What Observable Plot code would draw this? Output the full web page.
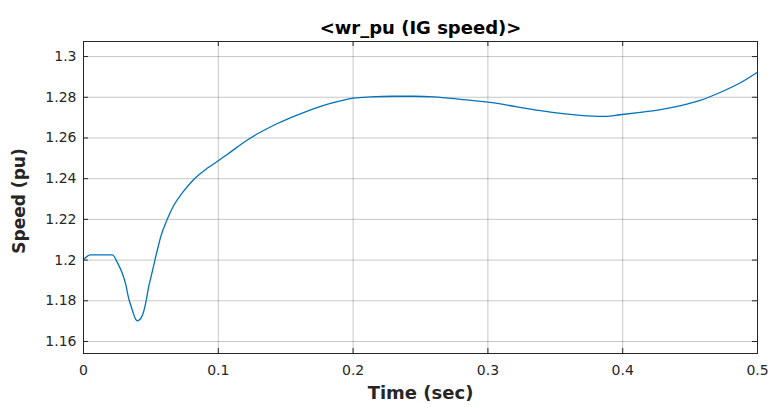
<!DOCTYPE html>
<html>
<head>
<meta charset="utf-8">
<script src="https://cdn.jsdelivr.net/npm/d3@7"></script>
<script src="https://cdn.jsdelivr.net/npm/@observablehq/plot@0.6"></script>
<style>
  html, body { margin: 0; padding: 0; background: #fff; }
  svg { display: block; }
</style>
</head>
<body>
<div id="chart"></div>
<script>
const title = "<wr_pu (IG speed)>";
const xLabel = "Time (sec)";
const yLabel = "Speed (pu)";
const xTicks = [0, 0.1, 0.2, 0.3, 0.4, 0.5];
const xTickLabels = ["0", "0.1", "0.2", "0.3", "0.4", "0.5"];
const yTicks = [1.16, 1.18, 1.2, 1.22, 1.24, 1.26, 1.28, 1.3];
const yTickLabels = ["1.16", "1.18", "1.2", "1.22", "1.24", "1.26", "1.28", "1.3"];

const time = [0, 0.005, 0.0215, 0.0252, 0.0289, 0.0312, 0.0334, 0.0364, 0.0386, 0.0401, 0.0418, 0.0438, 0.046, 0.0482, 0.0512, 0.0534, 0.0556, 0.0571, 0.0623, 0.0668, 0.0734, 0.0816, 0.092, 0.1, 0.1068, 0.1224, 0.1439, 0.1632, 0.1832, 0.2003, 0.213, 0.23, 0.245, 0.26, 0.28, 0.3, 0.339, 0.357, 0.378, 0.387, 0.398, 0.413, 0.428, 0.443, 0.458, 0.473, 0.488, 0.5];
const speed = [1.2002, 1.2026, 1.2026, 1.1987, 1.1933, 1.1884, 1.1815, 1.1751, 1.1710, 1.1702, 1.1708, 1.1730, 1.1785, 1.1864, 1.1948, 1.2012, 1.2071, 1.2110, 1.2203, 1.2267, 1.2331, 1.2395, 1.2452, 1.2488, 1.2520, 1.2594, 1.2671, 1.2725, 1.2770, 1.2796, 1.2802, 1.2805, 1.2805, 1.2802, 1.2790, 1.2776, 1.2734, 1.2718, 1.2707, 1.2706, 1.2714, 1.2726, 1.2739, 1.2759, 1.2786, 1.2826, 1.2874, 1.2923];

const data = time.map((t, i) => ({t, v: speed[i]}));

const W = 774, H = 408;
const mTop = 41, mBottom = 55, mLeft = 83, mRight = 17;
const frameH = H - mTop - mBottom;
const frameW = W - mLeft - mRight;
const tickLen = 5;
const font = "DejaVu Sans, sans-serif";
const ink = "#262626";

const chart = Plot.plot({
  width: W,
  height: H,
  marginTop: mTop,
  marginBottom: mBottom,
  marginLeft: mLeft,
  marginRight: mRight,
  style: {fontFamily: font, fontSize: "14px", color: ink, background: "#fff"},
  x: {domain: [0, 0.5]},
  y: {domain: [1.1541, 1.3074]},
  marks: [
    Plot.gridX(xTicks, {stroke: "#000", strokeOpacity: 0.22, strokeWidth: 1}),
    Plot.gridY(yTicks, {stroke: "#000", strokeOpacity: 0.22, strokeWidth: 1}),
    Plot.line(data, {x: "t", y: "v", stroke: "#0072bd", strokeWidth: 1.3, curve: "monotone-x"}),
    Plot.tickX(xTicks, {x: d => d, stroke: ink, insetTop: frameH - tickLen}),
    Plot.tickX(xTicks, {x: d => d, stroke: ink, insetBottom: frameH - tickLen}),
    Plot.tickY(yTicks, {y: d => d, stroke: ink, insetRight: frameW - tickLen}),
    Plot.tickY(yTicks, {y: d => d, stroke: ink, insetLeft: frameW - tickLen}),
    Plot.frame({stroke: ink, strokeWidth: 1}),
    Plot.axisX(xTicks, {tickSize: 0, tickPadding: 12, tickFormat: (d) => xTickLabels[xTicks.indexOf(d)], label: null, fontSize: 14}),
    Plot.axisY(yTicks, {tickSize: 0, tickPadding: 7, tickFormat: (d) => yTickLabels[yTicks.indexOf(d)], label: null, fontSize: 14}),
    Plot.text([title], {frameAnchor: "top", dy: -20, fontWeight: "bold", fontSize: 18, fill: "#000"}),
    Plot.text([xLabel], {frameAnchor: "bottom", dy: 45, fontWeight: "bold", fontSize: 18, fill: ink})
  ]
});
// rotated y-axis label, centred on the frame's vertical middle
const yMid = (mTop + (H - mBottom)) / 2 + 4;
d3.select(chart).append("text")
  .attr("transform", `translate(25,${yMid}) rotate(-90)`)
  .attr("text-anchor", "middle")
  .attr("font-family", font)
  .attr("font-weight", "bold")
  .attr("font-size", 17)
  .attr("fill", ink)
  .text(yLabel);
document.getElementById("chart").appendChild(chart);
</script>
</body>
</html>
